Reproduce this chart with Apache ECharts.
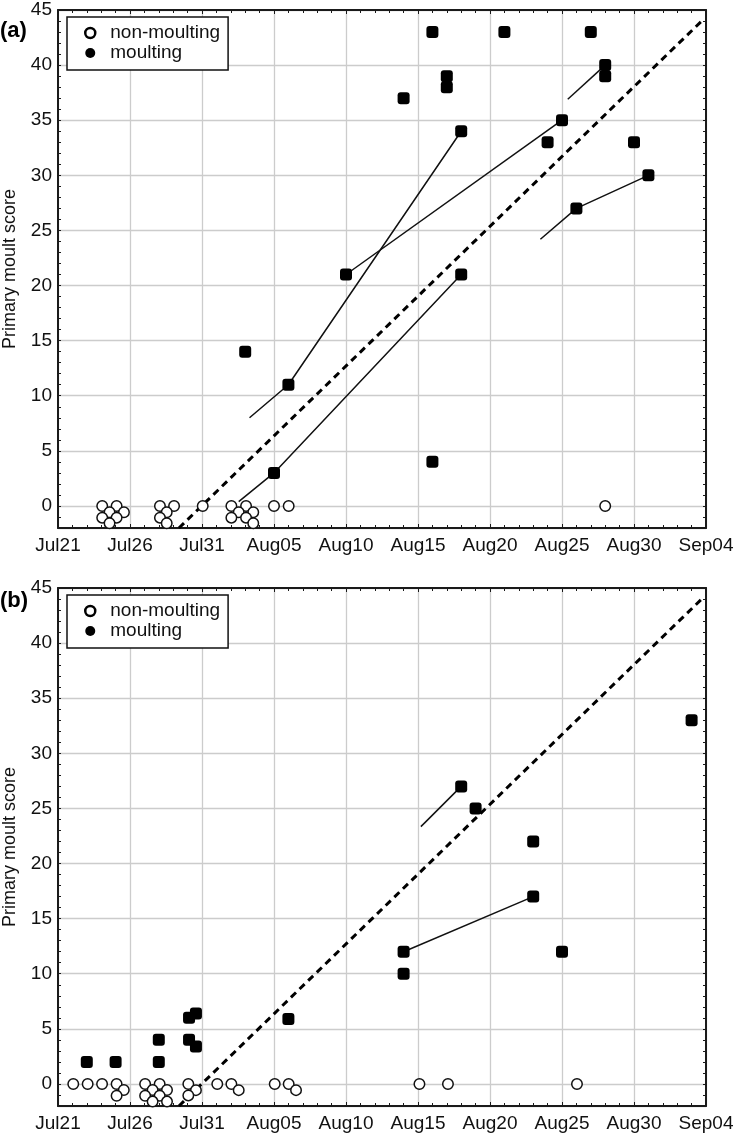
<!DOCTYPE html>
<html><head><meta charset="utf-8">
<script src="https://cdn.jsdelivr.net/npm/echarts@6/dist/echarts.min.js"></script>
<style>html,body{margin:0;padding:0;background:#fff}#c{width:734px;height:1137px}</style>
</head><body><div id="c"></div>
<script>
// x values are days after Jul 21 (small fractional offsets = plotting jitter)
const xTickLabels = ['Jul21','Jul26','Jul31','Aug05','Aug10','Aug15','Aug20','Aug25','Aug30','Sep04'];

// ---- panel (a)
const aNonMoulting = [
  [3.07,0],[4.07,0],[3.58,-0.57],[4.58,-0.57],[3.07,-1.06],[4.07,-1.06],[3.58,-1.57],
  [7.08,0],[8.06,0],[7.55,-0.57],[7.08,-1.06],[7.55,-1.57],
  [10.05,0],
  [12.04,0],[13.06,0],[12.55,-0.57],[13.56,-0.57],[12.04,-1.06],[13.06,-1.06],[13.56,-1.57],
  [15,0],[16.02,0],[38,0]
];
const aMoulting = [
  [13,14],[15,3],[16,11],[20,21],[24,37],[26,43],[26,4],[27,39],[27,38],[28,34],[28,21],
  [31,43],[34,33],[35,35],[36,27],[37,43],[38,40],[38,39],[40,33],[41,30]
];
const aTracks = [
  [[13.3,8.0],[16,11],[28,34]],
  [[12.55,0.4],[15,3],[28,21]],
  [[20,21],[35,35]],
  [[35.4,36.9],[38,40]],
  [[33.5,24.2],[36,27],[41,30]]
];
const aTrend = [[8.4,-2],[44.7,44]];

// ---- panel (b)
const bNonMoulting = [
  [1.06,0],[2.06,0],[3.06,0],[4.07,0],[4.57,-0.55],[4.07,-1.07],
  [6.05,0],[7.06,0],[6.57,-0.55],[7.57,-0.55],[6.05,-1.07],[7.06,-1.07],[6.57,-1.6],[7.57,-1.6],
  [9.05,0],[9.58,-0.56],[9.05,-1.04],
  [11.06,0],[12.04,0],[12.55,-0.56],
  [15.05,0],[16.02,0],[16.53,-0.56],
  [25.1,0],[27.08,0],[36.04,0]
];
const bMoulting = [
  [2,2],[4,2],[7,2],[7,4],[9.1,6.0],[9.58,6.4],[9.1,4.0],[9.58,3.4],[16,5.9],
  [24,12],[24,10],[28,27],[29,25],[33,22],[33,17],[35,12],[44,33]
];
const bTracks = [
  [[25.2,23.35],[28,27]],
  [[24,12],[33,17]]
];
const bTrend = [[8.4,-2],[44.7,44]];

const panelLabels = ['(a)','(b)'];
const yName = 'Primary moult score';

const FONT = 'Liberation Sans, Arial, sans-serif';
const INK = '#1a1a1a';
const GRIDC = '#cccccc';

const grids = [], xAxes = [], yAxes = [], series = [], legends = [], titles = [];
const panels = [
  {top:10, open:aNonMoulting, filled:aMoulting, tracks:aTracks, trend:aTrend, legendTop:17, titleTop:20},
  {top:588, open:bNonMoulting, filled:bMoulting, tracks:bTracks, trend:bTrend, legendTop:595, titleTop:590}
];

panels.forEach((p, i) => {
  grids.push({left:58, right:28, top:p.top, height:518, containLabel:false, outerBoundsMode:'none'});
  xAxes.push({gridIndex:i, type:'value', min:0, max:45, interval:5, position:'bottom',
    axisLine:{show:true, onZero:false, lineStyle:{color:INK, width:2}},
    axisTick:{show:true, inside:true, length:4, lineStyle:{color:INK, width:1}},
    minorTick:{show:true, splitNumber:5, length:3, lineStyle:{color:INK, width:1}},
    axisLabel:{formatter:v => xTickLabels[Math.round(v/5)], fontSize:19, color:'#111', margin:8, fontFamily:FONT},
    splitLine:{show:true, lineStyle:{color:GRIDC, width:1.3}}});
  xAxes.push({gridIndex:i, type:'value', min:0, max:45, interval:5, position:'top',
    axisLine:{show:true, onZero:false, lineStyle:{color:INK, width:2}},
    axisTick:{show:true, inside:true, length:4, lineStyle:{color:INK, width:1}},
    minorTick:{show:true, splitNumber:5, length:3, lineStyle:{color:INK, width:1}},
    axisLabel:{show:false}, splitLine:{show:false}});
  yAxes.push({gridIndex:i, type:'value', min:-2, max:45, splitNumber:10, position:'left',
    name:yName, nameLocation:'middle', nameRotate:90, nameGap:39,
    nameTextStyle:{fontSize:18, color:'#111', fontFamily:FONT},
    axisLine:{show:true, onZero:false, lineStyle:{color:INK, width:2}},
    axisTick:{show:false},
    axisLabel:{formatter:v => (v < 0 ? '' : String(v)), fontSize:19, color:'#111', margin:6, fontFamily:FONT},
    splitLine:{show:true, lineStyle:{color:GRIDC, width:1.3}}});
  yAxes.push({gridIndex:i, type:'value', min:-2, max:45, interval:1, position:'right',
    axisLine:{show:true, onZero:false, lineStyle:{color:INK, width:2}},
    axisTick:{show:true, inside:true, length:3, lineStyle:{color:INK, width:1}},
    axisLabel:{show:false}, splitLine:{show:false}});
  yAxes.push({gridIndex:i, type:'value', min:-2, max:45, interval:1, position:'left',
    axisLine:{show:false},
    axisTick:{show:true, inside:true, length:3, lineStyle:{color:INK, width:1}},
    axisLabel:{show:false}, splitLine:{show:false}});

  const xi = 2*i, yi = 3*i;
  series.push({type:'line', xAxisIndex:xi, yAxisIndex:yi, data:p.trend, symbol:'none', silent:true, z:3,
    lineStyle:{color:'#000', width:3, type:[7,5], cap:'butt'}});
  p.tracks.forEach(t => series.push({type:'line', xAxisIndex:xi, yAxisIndex:yi, data:t, symbol:'none', silent:true, z:3,
    lineStyle:{color:'#111', width:1.5}}));
  series.push({type:'scatter', name:'non-moulting', xAxisIndex:xi, yAxisIndex:yi, data:p.open, symbol:'circle', symbolSize:10.5, z:4,
    itemStyle:{color:'#fff', borderColor:'#111', borderWidth:1.5, opacity:1}});
  series.push({type:'scatter', name:'moulting', xAxisIndex:xi, yAxisIndex:yi, data:p.filled, symbol:'roundRect', symbolSize:12, z:5,
    itemStyle:{color:'#000', opacity:1}});

  legends.push({left:67, top:p.legendTop, orient:'vertical', padding:[6,8,7,17], itemWidth:30, itemHeight:10, itemGap:0,
    borderColor:'#111', borderWidth:1.5, backgroundColor:'#fff', selectedMode:false,
    textStyle:{fontSize:19, lineHeight:20, color:'#111', fontFamily:FONT},
    data:[{name:'non-moulting', icon:'circle', itemStyle:{color:'#fff', borderColor:'#000', borderWidth:2.5, opacity:1}},
          {name:'moulting', icon:'circle', itemStyle:{color:'#000', opacity:1}}]});
  titles.push({text:panelLabels[i], left:0, top:p.titleTop, padding:0,
    textStyle:{fontSize:22, fontWeight:'bold', color:'#000', fontFamily:FONT}});
});

const chart = echarts.init(document.getElementById('c'), null, {renderer:'canvas'});
chart.setOption({
  animation:false, backgroundColor:'#fff',
  textStyle:{fontFamily:FONT},
  title:titles, legend:legends, grid:grids, xAxis:xAxes, yAxis:yAxes, series:series
});
</script>
</body></html>
